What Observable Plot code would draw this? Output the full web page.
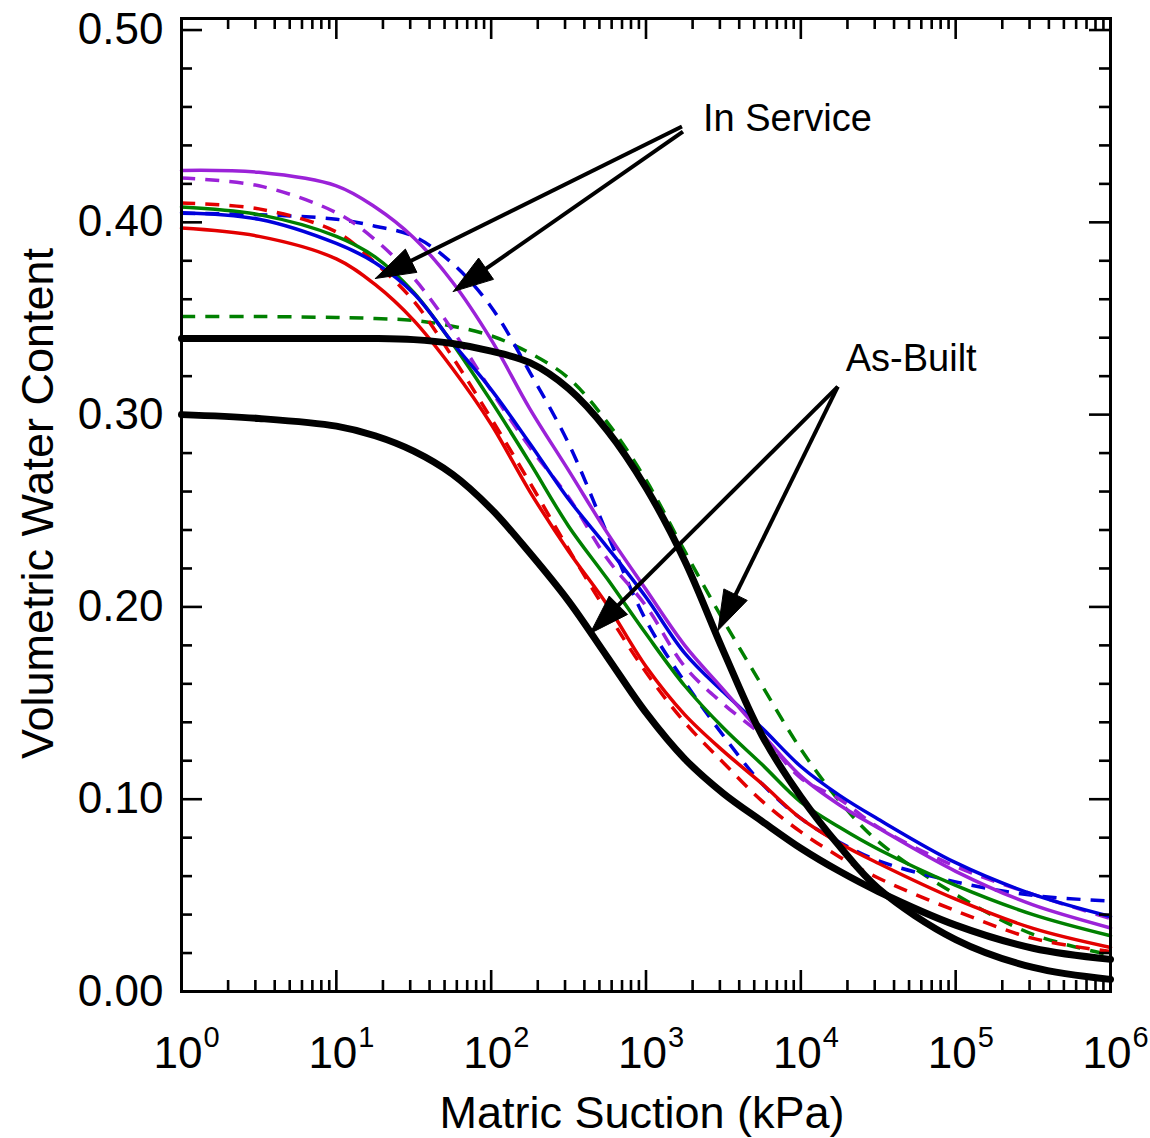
<!DOCTYPE html>
<html><head><meta charset="utf-8">
<script src="https://cdn.jsdelivr.net/npm/d3@7"></script>
<script src="https://cdn.jsdelivr.net/npm/@observablehq/plot@0.6"></script>
<style>body{margin:0;background:#fff} svg{display:block}</style>
</head><body><div id="chart"></div>
<script>
// ---------- data ----------
const suction = [1, 3.162, 10, 17.78, 31.62, 56.23, 100, 177.8, 316.2, 562.3, 1000, 1778, 3162, 5623, 10000, 17783, 31623, 100000, 316228, 1000000];
const purpleSolid = [0.427, 0.426, 0.419, 0.408, 0.392, 0.369, 0.339, 0.303, 0.271, 0.2385, 0.209, 0.180, 0.157, 0.134, 0.112, 0.097, 0.085, 0.0625, 0.045, 0.033];
const purpleDashed = [0.423, 0.419, 0.405, 0.391, 0.371, 0.344, 0.3125, 0.283, 0.257, 0.225, 0.2005, 0.169, 0.1495, 0.133, 0.111, 0.100, 0.0854, 0.065, 0.0505, 0.038];
const blueSolid = [0.405, 0.4016, 0.389, 0.379, 0.363, 0.3375, 0.313, 0.285, 0.256, 0.231, 0.205, 0.176, 0.1557, 0.137, 0.117, 0.102, 0.0896, 0.067, 0.0505, 0.039];
const blueDashed = [0.4047, 0.404, 0.4016, 0.398, 0.3927, 0.3786, 0.356, 0.322, 0.285, 0.238, 0.193, 0.161, 0.133, 0.108, 0.090, 0.0776, 0.068, 0.057, 0.050, 0.047];
const greenSolid = [0.408, 0.404, 0.3927, 0.382, 0.3635, 0.337, 0.307, 0.275, 0.242, 0.2146, 0.186, 0.159, 0.137, 0.118, 0.0985, 0.0854, 0.074, 0.0552, 0.040, 0.029];
const greenDashed = [0.351, 0.351, 0.3505, 0.350, 0.349, 0.346, 0.341, 0.332, 0.319, 0.296, 0.266, 0.229, 0.193, 0.159, 0.126, 0.099, 0.078, 0.0505, 0.0297, 0.019];
const redSolid = [0.397, 0.3927, 0.381, 0.3677, 0.349, 0.324, 0.295, 0.260, 0.229, 0.201, 0.169, 0.144, 0.125, 0.108, 0.090, 0.0771, 0.0667, 0.048, 0.0328, 0.0229];
const redDashed = [0.410, 0.407, 0.395, 0.379, 0.359, 0.330, 0.298, 0.2646, 0.230, 0.197, 0.166, 0.140, 0.119, 0.099, 0.083, 0.070, 0.059, 0.042, 0.0276, 0.0208];
const asBuiltUpper = [0.3396, 0.3396, 0.3396, 0.3396, 0.339, 0.337, 0.333, 0.327, 0.3135, 0.2917, 0.262, 0.224, 0.177, 0.133, 0.1013, 0.0755, 0.0536, 0.027, 0.0125, 0.0063];
const asBuiltLower = [0.300, 0.298, 0.294, 0.289, 0.281, 0.269, 0.251, 0.228, 0.203, 0.174, 0.145, 0.121, 0.103, 0.0885, 0.0745, 0.0625, 0.052, 0.0345, 0.0225, 0.0167];

const xMajorTicks = [1, 10, 100, 1000, 10000, 100000, 1000000];
const xExponents = ["0", "1", "2", "3", "4", "5", "6"];
const xMinorTicks = [2,3,4,5,6,7,8,9].flatMap(m => [0,1,2,3,4,5].map(k => m * 10 ** k));
const yMajorTicks = [0, 0.1, 0.2, 0.3, 0.4, 0.5];
const yTickLabels = ["0.00", "0.10", "0.20", "0.30", "0.40", "0.50"];
const yMinorTicks = [0.02,0.04,0.06,0.08,0.12,0.14,0.16,0.18,0.22,0.24,0.26,0.28,0.32,0.34,0.36,0.38,0.42,0.44,0.46,0.48];

const xTitle = "Matric Suction (kPa)";
const yTitle = "Volumetric Water Content";

// annotations (data coordinates)
const labelText = ["In Service", "As-Built"];
const labelX = [2333, 19500];
const labelY = [0.4477, 0.3229];
const arrowFromX = [1707, 1733, 17330, 17330];
const arrowFromY = [0.4498, 0.4472, 0.3146, 0.3146];
const arrowToX = [17.85, 56.9, 435.3, 2914];
const arrowToY = [0.3708, 0.364, 0.1862, 0.1877];

// ---------- styles ----------
const series = [
  {values: greenDashed, color: "#008000", width: 3.5, dash: "14,10"},
  {values: blueDashed, color: "#0000dc", width: 3.5, dash: "14,10"},
  {values: purpleDashed, color: "#9b22d8", width: 3.5, dash: "14,10"},
  {values: redDashed, color: "#e30000", width: 3.5, dash: "14,10"},
  {values: redSolid, color: "#e30000", width: 3.5, dash: null},
  {values: greenSolid, color: "#008000", width: 3.5, dash: null},
  {values: blueSolid, color: "#0000dc", width: 3.5, dash: null},
  {values: purpleSolid, color: "#9b22d8", width: 3.5, dash: null},
  {values: asBuiltUpper, color: "#000", width: 7, dash: null},
  {values: asBuiltLower, color: "#000", width: 7, dash: null}
];

const W = 1150, H = 1138, mL = 181, mR = 40, mT = 18, mB = 147;
const yTop = 0.506;
const plotW = W - mL - mR, plotH = H - mT - mB;

const sx = Plot.scale({x: {type: "log", domain: [1, 1e6], range: [mL, W - mR]}});
const sy = Plot.scale({y: {type: "linear", domain: [0, yTop], range: [H - mB, mT]}});

// arrowheads as filled triangles (computed in screen space, mapped back)
const headLen = 40, headHalf = 13;
const heads = [];
const shafts = [];
arrowToX.forEach((_, i) => {
  const x0 = sx.apply(arrowFromX[i]), y0 = sy.apply(arrowFromY[i]);
  const x1 = sx.apply(arrowToX[i]), y1 = sy.apply(arrowToY[i]);
  const dx = x1 - x0, dy = y1 - y0, len = Math.hypot(dx, dy);
  const ux = dx / len, uy = dy / len;
  const bx = x1 - ux * headLen, by = y1 - uy * headLen;
  const pts = [[x1, y1], [bx - uy * headHalf, by + ux * headHalf], [bx + uy * headHalf, by - ux * headHalf], [x1, y1]];
  pts.forEach(p => heads.push({id: i, x: sx.invert(p[0]), y: sy.invert(p[1])}));
  shafts.push({x1: arrowFromX[i], y1: arrowFromY[i], x2: sx.invert(bx + ux * 4), y2: sy.invert(by + uy * 4)});
});

const marks = [];
series.forEach(s => {
  const rows = suction.map((x, i) => ({x, y: s.values[i]}));
  marks.push(Plot.line(rows, {x: "x", y: "y", stroke: s.color, strokeWidth: s.width,
    strokeDasharray: s.dash, curve: "catmull-rom", strokeLinejoin: "round", strokeLinecap: s.dash ? "butt" : "round"}));
});

// ticks (inward, all four sides)
const tk = {stroke: "#000", strokeWidth: 2.6};
marks.push(
  Plot.ruleX(xMajorTicks, {x: d => d, insetTop: plotH - 21, ...tk}),
  Plot.ruleX(xMinorTicks, {x: d => d, insetTop: plotH - 11, ...tk}),
  Plot.ruleX(xMajorTicks, {x: d => d, insetBottom: plotH - 21, ...tk}),
  Plot.ruleX(xMinorTicks, {x: d => d, insetBottom: plotH - 11, ...tk}),
  Plot.ruleY(yMajorTicks, {y: d => d, insetRight: plotW - 21, ...tk}),
  Plot.ruleY(yMinorTicks, {y: d => d, insetRight: plotW - 11, ...tk}),
  Plot.ruleY(yMajorTicks, {y: d => d, insetLeft: plotW - 21, ...tk}),
  Plot.ruleY(yMinorTicks, {y: d => d, insetLeft: plotW - 11, ...tk}),
  Plot.frame({stroke: "#000", strokeWidth: 3})
);

// tick labels and titles
marks.push(
  Plot.text(yMajorTicks, {y: d => d, text: (d, i) => yTickLabels[i], frameAnchor: "left", textAnchor: "end", lineAnchor: "middle", dx: -18, fontSize: 44}),
  Plot.text(xMajorTicks, {x: d => d, text: () => "10", frameAnchor: "bottom", textAnchor: "end", lineAnchor: "middle", dx: 21, dy: 62, fontSize: 44}),
  Plot.text(xMajorTicks, {x: d => d, text: (d, i) => xExponents[i], frameAnchor: "bottom", textAnchor: "start", lineAnchor: "middle", dx: 22, dy: 46, fontSize: 29}),
  Plot.text([xTitle], {text: d => d, frameAnchor: "bottom", textAnchor: "middle", lineAnchor: "middle", dx: -4, dy: 122, fontSize: 45}),
  Plot.text([yTitle], {text: d => d, frameAnchor: "left", textAnchor: "middle", lineAnchor: "middle", rotate: -90, dx: -143, dy: -1.5, fontSize: 45})
);

// annotations
marks.push(
  Plot.link(shafts, {x1: "x1", y1: "y1", x2: "x2", y2: "y2", stroke: "#000", strokeWidth: 4}),
  Plot.line(heads, {x: "x", y: "y", z: "id", fill: "#000", stroke: "#000", strokeWidth: 1, curve: "linear"}),
  Plot.text(labelText, {x: (d, i) => labelX[i], y: (d, i) => labelY[i], text: d => d, textAnchor: "start", lineAnchor: "bottom", fontSize: 38})
);

const chart = Plot.plot({
  width: W, height: H,
  marginLeft: mL, marginRight: mR, marginTop: mT, marginBottom: mB,
  x: {type: "log", domain: [1, 1e6], axis: null},
  y: {type: "linear", domain: [0, yTop], axis: null},
  style: {fontFamily: "'Liberation Sans', Arial, Helvetica, sans-serif", background: "#fff", color: "#000", overflow: "visible"},
  marks
});
document.getElementById("chart").appendChild(chart);
</script>
</body></html>
